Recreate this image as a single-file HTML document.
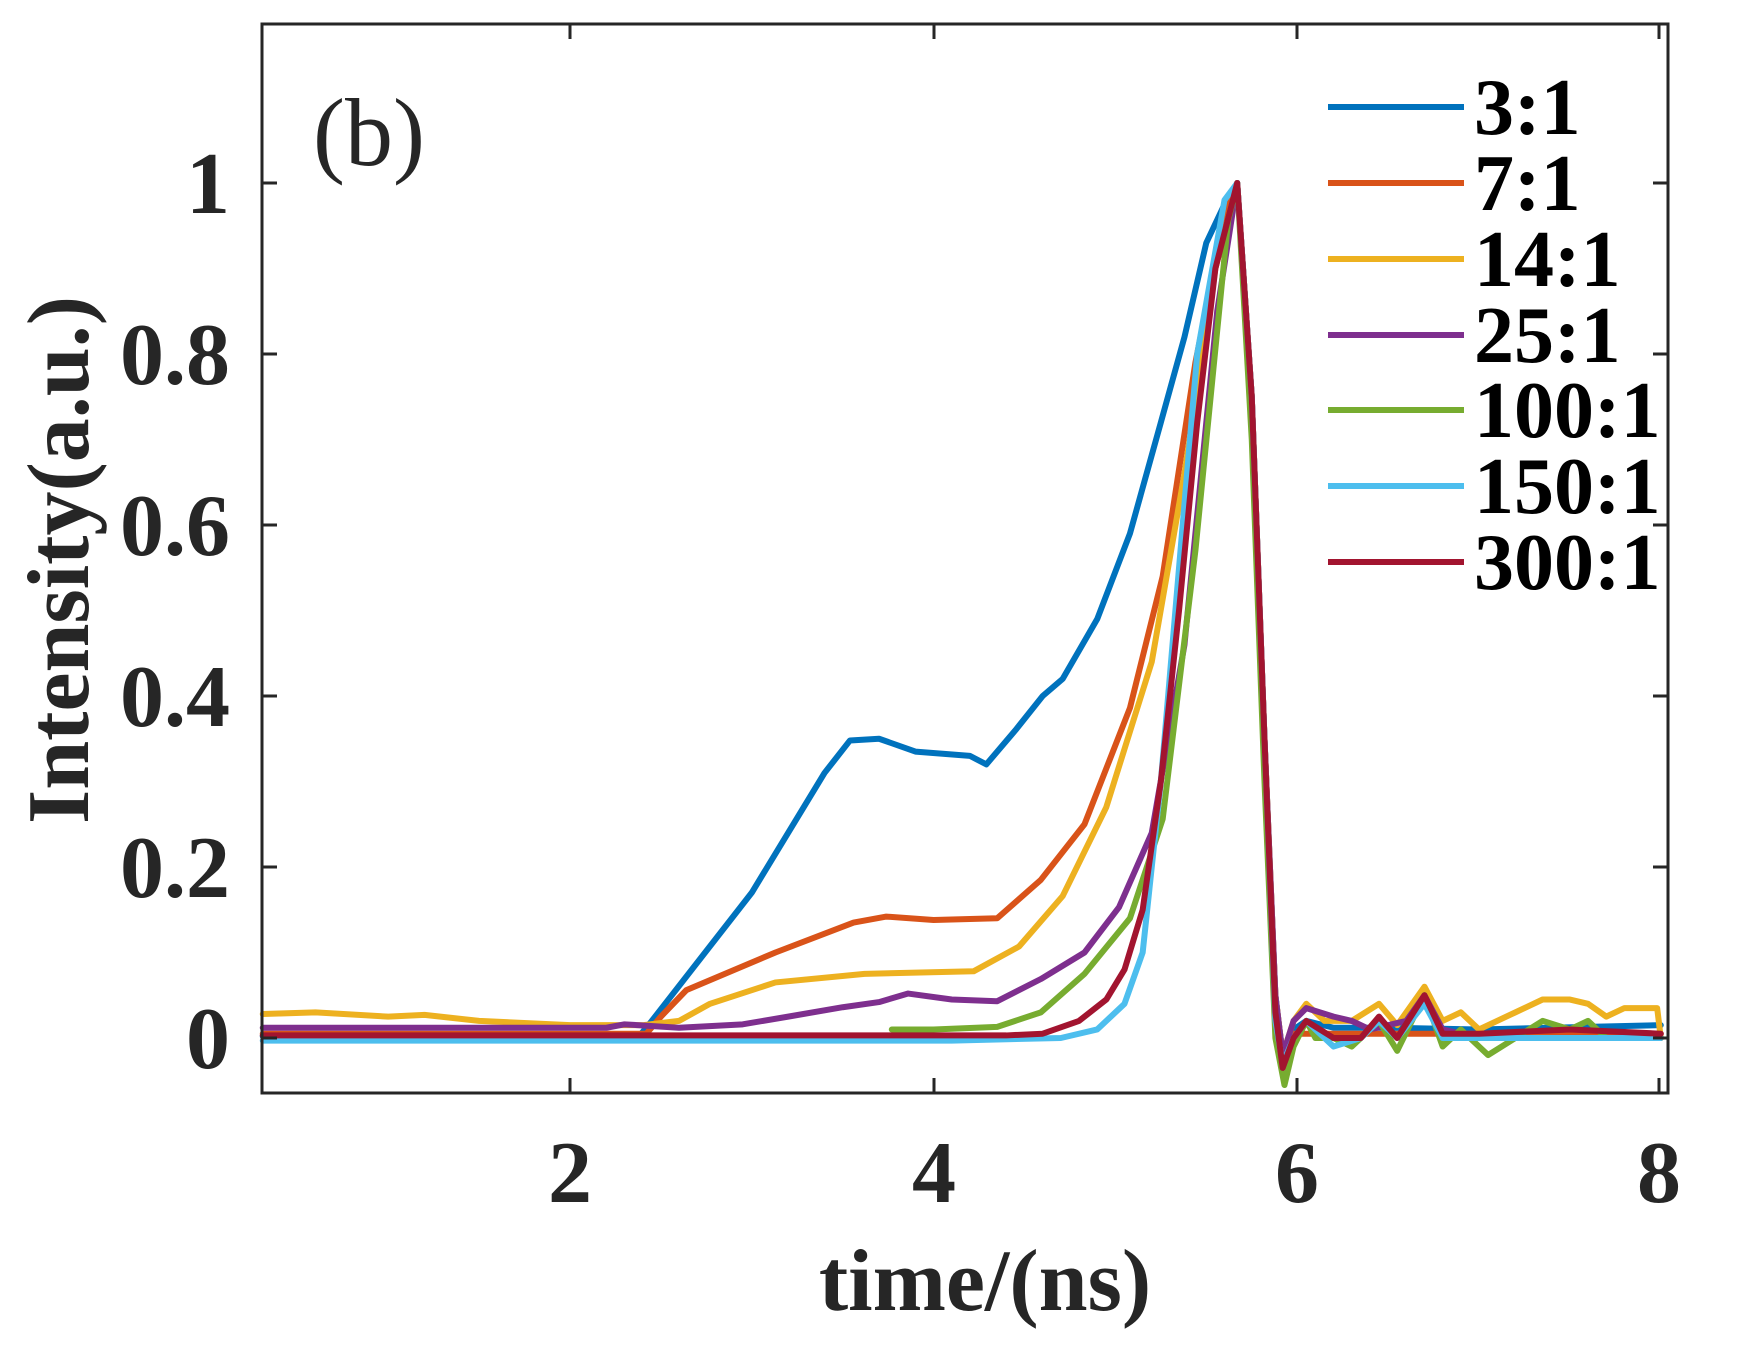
<!DOCTYPE html>
<html><head><meta charset="utf-8"><style>
html,body{margin:0;padding:0;background:#fff}
svg{display:block}
text{font-family:"Liberation Serif",serif;fill:#262626}
</style></head><body>
<svg width="1738" height="1352" viewBox="0 0 1738 1352" xmlns="http://www.w3.org/2000/svg">
<rect width="1738" height="1352" fill="#fff"/>
<g fill="none" stroke-width="6" stroke-linejoin="round" stroke-linecap="round">
<g transform="matrix(181.8,0,0,-855,206.4,1038)">
<polyline vector-effect="non-scaling-stroke" stroke="#0072BD" points="0.31,0.002 2.38,0.002 2.45,0.02 3.0,0.17 3.4,0.31 3.54,0.348 3.7,0.35 3.9,0.335 4.2,0.33 4.29,0.32 4.45,0.36 4.6,0.4 4.71,0.42 4.9,0.49 5.08,0.59 5.25,0.72 5.38,0.82 5.5,0.93 5.6,0.975 5.67,1.0 5.75,0.75 5.82,0.35 5.88,0.05 5.92,-0.02 5.98,0.01 6.05,0.02 6.2,0.012 6.5,0.012 7.0,0.01 8,0.015"/>
<polyline vector-effect="non-scaling-stroke" stroke="#D95319" points="0.31,0.005 2.42,0.005 2.5,0.025 2.64,0.056 3.13,0.10 3.56,0.135 3.74,0.142 4.0,0.138 4.35,0.14 4.59,0.185 4.83,0.25 5.08,0.386 5.26,0.54 5.44,0.79 5.6,0.96 5.67,1.0 5.75,0.75 5.82,0.35 5.88,0.05 5.92,-0.02 5.98,0.005 6.2,0.005 8,0.005"/>
<polyline vector-effect="non-scaling-stroke" stroke="#EDB120" points="0.31,0.028 0.6,0.03 1.0,0.025 1.2,0.027 1.5,0.02 2.0,0.015 2.4,0.015 2.6,0.02 2.77,0.04 3.13,0.065 3.62,0.075 4.22,0.078 4.47,0.107 4.71,0.166 4.95,0.27 5.2,0.44 5.38,0.66 5.55,0.9 5.67,1.0 5.75,0.75 5.82,0.35 5.88,0.05 5.92,-0.02 5.98,0.02 6.05,0.04 6.15,0.02 6.3,0.02 6.45,0.04 6.55,0.015 6.7,0.06 6.8,0.02 6.9,0.03 7.0,0.01 7.2,0.03 7.35,0.045 7.5,0.045 7.6,0.04 7.7,0.025 7.8,0.035 7.98,0.035 8.0,0.0"/>
<polyline vector-effect="non-scaling-stroke" stroke="#7E2F8E" points="0.31,0.012 2.2,0.012 2.3,0.016 2.6,0.012 2.95,0.016 3.2,0.025 3.5,0.036 3.7,0.042 3.86,0.052 4.1,0.045 4.35,0.043 4.59,0.069 4.83,0.10 5.02,0.153 5.2,0.24 5.38,0.46 5.56,0.85 5.67,1.0 5.75,0.75 5.82,0.35 5.88,0.05 5.92,-0.02 5.98,0.02 6.05,0.035 6.2,0.025 6.3,0.02 6.4,0.01 6.6,0.02 6.7,0.05 6.8,0.01 7.0,0.0 8,0.0"/>
<polyline vector-effect="non-scaling-stroke" stroke="#77AC30" points="3.77,0.01 4.0,0.01 4.35,0.013 4.59,0.03 4.83,0.075 5.08,0.14 5.26,0.256 5.44,0.57 5.62,0.956 5.67,1.0 5.75,0.7 5.82,0.3 5.88,0.0 5.93,-0.055 5.98,-0.01 6.05,0.02 6.1,0.0 6.2,0.0 6.3,-0.01 6.45,0.02 6.55,-0.015 6.7,0.05 6.8,-0.01 6.9,0.01 7.05,-0.02 7.2,0.0 7.35,0.02 7.5,0.01 7.6,0.02 7.7,0.0 8,0.0"/>
<polyline vector-effect="non-scaling-stroke" stroke="#4DBEEE" points="0.31,-0.003 4.1,-0.003 4.7,0.0 4.9,0.01 5.05,0.04 5.15,0.1 5.25,0.3 5.35,0.55 5.45,0.8 5.6,0.98 5.67,1.0 5.75,0.75 5.82,0.35 5.88,0.02 5.92,-0.03 5.98,0.0 6.05,0.02 6.2,-0.01 6.35,0.0 6.45,0.02 6.55,0.0 6.7,0.04 6.8,0.0 8,0.0"/>
<polyline vector-effect="non-scaling-stroke" stroke="#A2142F" points="0.31,0.003 4.4,0.003 4.6,0.005 4.8,0.02 4.95,0.045 5.05,0.08 5.15,0.15 5.25,0.3 5.35,0.5 5.45,0.72 5.55,0.9 5.67,1.0 5.75,0.75 5.82,0.35 5.88,0.03 5.92,-0.035 5.98,0.0 6.05,0.02 6.2,0.0 6.35,0.0 6.45,0.025 6.55,0.0 6.7,0.05 6.8,0.005 7.0,0.005 7.5,0.01 8,0.005"/>
</g>
</g>
<g stroke="#262626" stroke-width="3" fill="none">
<rect x="262" y="24" width="1406" height="1069"/>
<path d="M570,1093v-15M934,1093v-15M1297,1093v-15M1659,1093v-15M570,24v15M934,24v15M1297,24v15M1659,24v15"/>
<path d="M262,1038h15M262,867h15M262,696h15M262,525h15M262,354h15M262,183h15M1668,1038h-15M1668,867h-15M1668,696h-15M1668,525h-15M1668,354h-15M1668,183h-15"/>
</g>
<g font-weight="bold" font-size="88" text-anchor="end">
<text x="230" y="1068">0</text>
<text x="230" y="897">0.2</text>
<text x="230" y="726">0.4</text>
<text x="230" y="555">0.6</text>
<text x="230" y="384">0.8</text>
<text x="230" y="213">1</text>
</g>
<g font-weight="bold" font-size="88" text-anchor="middle">
<text x="570" y="1202">2</text>
<text x="934" y="1202">4</text>
<text x="1297" y="1202">6</text>
<text x="1659" y="1202">8</text>
<text x="985" y="1310">time/(ns)</text>
</g>
<text font-weight="bold" font-size="88" text-anchor="middle" transform="translate(88,560) rotate(-90)">Intensity(a.u.)</text>
<text x="313" y="165" font-size="96">(b)</text>
<g stroke-width="6">
<line x1="1328" y1="107" x2="1464" y2="107" stroke="#0072BD"/>
<line x1="1328" y1="183" x2="1464" y2="183" stroke="#D95319"/>
<line x1="1328" y1="259" x2="1464" y2="259" stroke="#EDB120"/>
<line x1="1328" y1="335" x2="1464" y2="335" stroke="#7E2F8E"/>
<line x1="1328" y1="410" x2="1464" y2="410" stroke="#77AC30"/>
<line x1="1328" y1="486" x2="1464" y2="486" stroke="#4DBEEE"/>
<line x1="1328" y1="562" x2="1464" y2="562" stroke="#A2142F"/>
</g>
<g font-weight="bold" font-size="80">
<text x="1474" y="134" style="fill:#000">3:1</text>
<text x="1474" y="210" style="fill:#000">7:1</text>
<text x="1474" y="286" style="fill:#000">14:1</text>
<text x="1474" y="362" style="fill:#000">25:1</text>
<text x="1474" y="437" style="fill:#000">100:1</text>
<text x="1474" y="513" style="fill:#000">150:1</text>
<text x="1474" y="589" style="fill:#000">300:1</text>
</g>
</svg>
</body></html>
